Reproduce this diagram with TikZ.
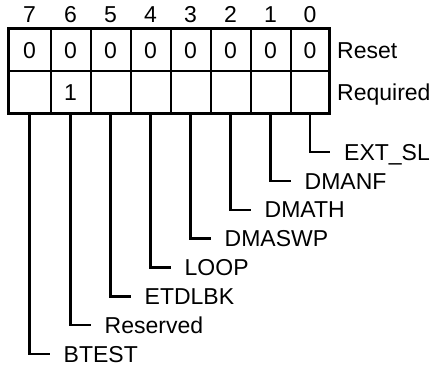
\documentclass[tikz,border=0pt]{standalone}
\usepackage{fontspec}
\setmainfont{Liberation Sans}
\usetikzlibrary{calc}
\begin{document}
\begin{tikzpicture}[x=1pt,y=-1pt,
  font=\fontsize{23}{27}\selectfont,
  cell/.style={draw, line width=2pt, minimum height=42.5pt, inner sep=0pt,
    outer sep=0pt, anchor=north west, text height=16.5pt, text depth=0pt},
  lead/.style={line width=2.4pt},
  lbl/.style={anchor=west, inner sep=0pt, text height=16.5pt, text depth=0pt},
  bitno/.style={anchor=base, inner sep=0pt}]
\useasboundingbox (0,0) rectangle (435,368);
% cells: bit / left edge / width / reset / required
\foreach \b/\x/\w/\r/\q in {7/8.5/42/0/,6/50.5/40/0/1,5/90.5/40/0/,4/130.5/40/0/,
  3/170.5/40/0/,2/210.5/40/0/,1/250.5/40/0/,0/290.5/39/0/}{
  \node[cell, minimum width=\w pt] (r\b) at (\x,28.5) {\r};
  \node[cell, minimum width=\w pt] (q\b) at (\x,71) {\q};
  \node[bitno] (b\b) at ($(r\b.north)+(0,-6.5)$) {\b};
}
\draw[line width=3pt] (r7.north west) rectangle (q0.south east);
\node[lbl] (reset) at (337,49.8) {Reset};
\node[lbl] (req) at (337,92.3) {Required};
% leaders
\foreach \b/\name/\y in {7/BTEST/354,6/Reserved/325.1,5/ETDLBK/296.3,4/LOOP/267.4,
  3/DMASWP/238.6,2/DMATH/209.7,1/DMANF/180.9,0/EXT\_SL/152}{
  \path (q\b.south) ++(34,0) coordinate (t\b);
  \node[lbl] (l\b) at (t\b |- 0,\y) {\name};
  \draw[lead] (q\b.south) |- ([xshift=-14pt]l\b.west);
}
\end{tikzpicture}
\end{document}
